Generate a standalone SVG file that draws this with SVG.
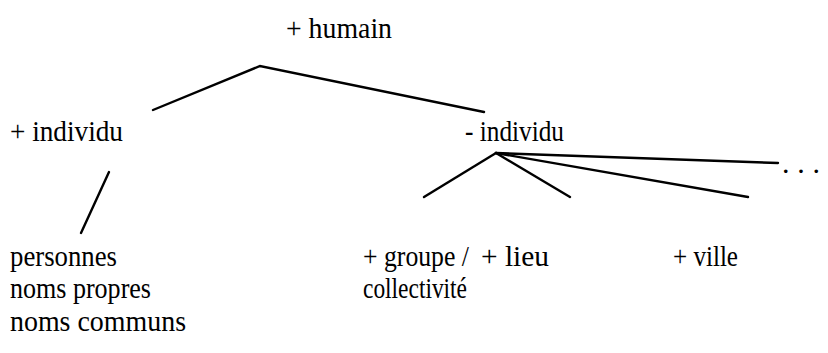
<svg xmlns="http://www.w3.org/2000/svg" width="828" height="353" viewBox="0 0 828 353">
  <style>
    .lbl { font-family: "Liberation Serif", "Times New Roman", serif; font-size: 30px; fill: #000; }
    .edge { stroke: #000; stroke-width: 2.4; fill: none; stroke-linecap: round; }
  </style>
  <rect width="828" height="353" fill="#fff"/>

  <!-- tree branches -->
  <g id="connectors">
    <path class="edge" d="M153,110 L260,66 L484,112"/>
    <line class="edge" x1="109" y1="172" x2="81" y2="233"/>
    <line class="edge" x1="496" y1="153" x2="424" y2="197"/>
    <line class="edge" x1="496" y1="153" x2="570" y2="197"/>
    <line class="edge" x1="496" y1="153" x2="748" y2="197"/>
    <line class="edge" x1="496" y1="153" x2="778" y2="163"/>
  </g>

  <g id="humain"><text class="lbl" x="286" y="38" textLength="106" lengthAdjust="spacingAndGlyphs">+ humain</text></g>
  <g id="plus-individu"><text class="lbl" x="10" y="141" textLength="113" lengthAdjust="spacingAndGlyphs">+ individu</text></g>
  <g id="moins-individu"><text class="lbl" x="465" y="141" textLength="99" lengthAdjust="spacingAndGlyphs">- individu</text></g>
  <g id="suite"><text class="lbl" x="782" y="173" textLength="38" lengthAdjust="spacing">...</text></g>
  <g id="personnes">
    <text class="lbl" x="10" y="266" textLength="107" lengthAdjust="spacingAndGlyphs">personnes</text>
    <text class="lbl" x="10" y="298" textLength="141" lengthAdjust="spacingAndGlyphs">noms propres</text>
    <text class="lbl" x="10" y="331" textLength="176" lengthAdjust="spacingAndGlyphs">noms communs</text>
  </g>
  <g id="groupe">
    <text class="lbl" x="363" y="266" textLength="106" lengthAdjust="spacingAndGlyphs">+ groupe /</text>
    <text class="lbl" x="363" y="298" textLength="104" lengthAdjust="spacingAndGlyphs">collectivité</text>
  </g>
  <g id="lieu"><text class="lbl" x="481" y="266" textLength="68" lengthAdjust="spacingAndGlyphs">+ lieu</text></g>
  <g id="ville"><text class="lbl" x="673" y="266" textLength="65" lengthAdjust="spacingAndGlyphs">+ ville</text></g>
</svg>
